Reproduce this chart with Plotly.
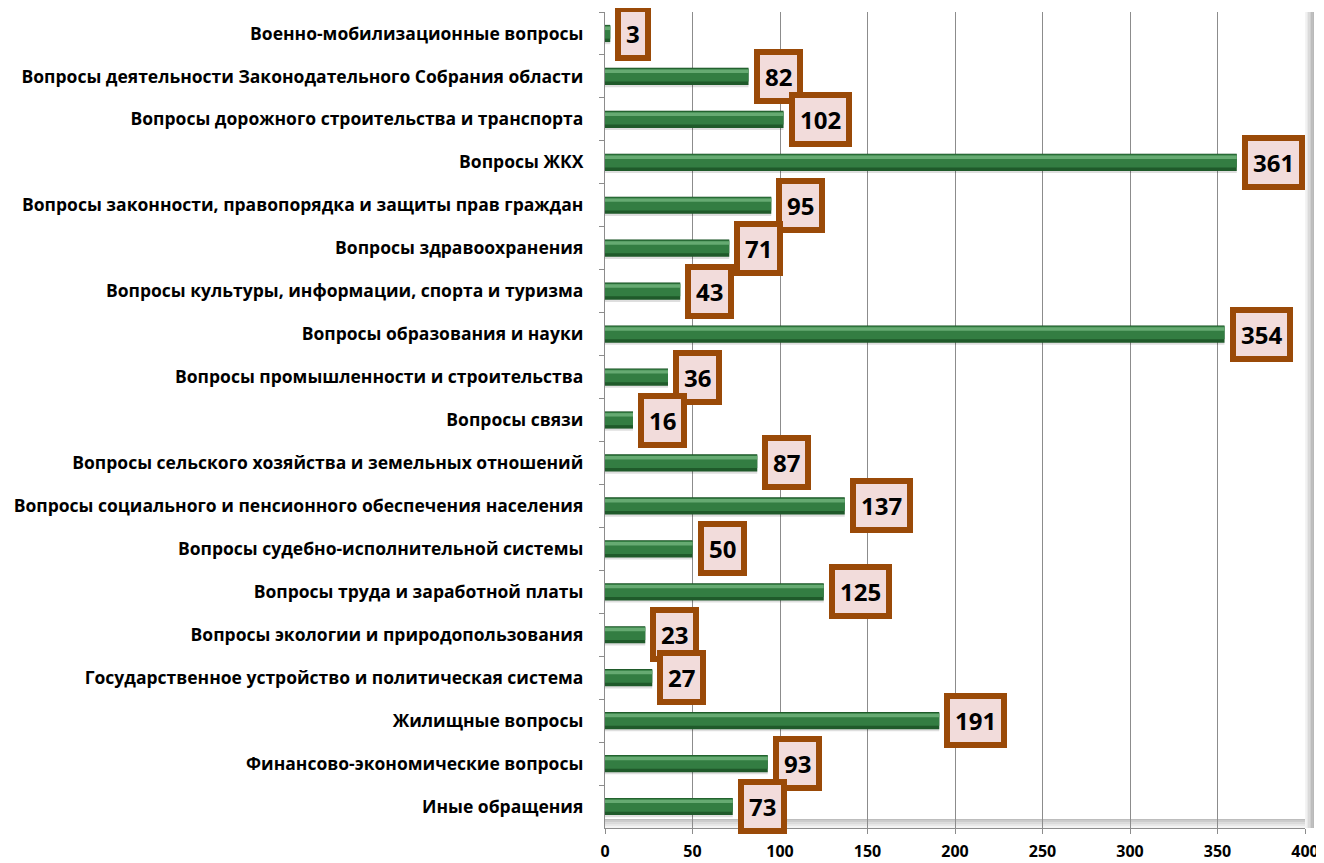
import plotly.graph_objects as go

categories = [
    "Военно-мобилизационные вопросы",
    "Вопросы деятельности Законодательного Собрания области",
    "Вопросы дорожного строительства и транспорта",
    "Вопросы ЖКХ",
    "Вопросы законности, правопорядка и защиты прав граждан",
    "Вопросы здравоохранения",
    "Вопросы культуры, информации, спорта и туризма",
    "Вопросы образования и науки",
    "Вопросы промышленности и строительства",
    "Вопросы связи",
    "Вопросы сельского хозяйства и земельных отношений",
    "Вопросы социального и пенсионного обеспечения населения",
    "Вопросы судебно-исполнительной системы",
    "Вопросы труда и заработной платы",
    "Вопросы экологии и природопользования",
    "Государственное устройство и политическая система",
    "Жилищные вопросы",
    "Финансово-экономические вопросы",
    "Иные обращения",
]
values = [3, 82, 102, 361, 95, 71, 43, 354, 36, 16, 87, 137, 50, 125, 23, 27, 191, 93, 73]
x_ticks = [0, 50, 100, 150, 200, 250, 300, 350, 400]

FONT = "Open Sans"
fig = go.Figure()

# bar layers to imitate the 3D gradient look
fig.add_trace(go.Bar(y=categories, x=values, orientation="h", width=0.45, offset=-0.2,
                     marker=dict(color="rgba(0,0,0,0.13)", line=dict(width=0)), hoverinfo="skip"))
fig.add_trace(go.Bar(y=categories, x=values, orientation="h", width=0.40, offset=-0.20,
                     marker=dict(color="#1F5A2A", line=dict(width=0)), hoverinfo="skip"))
fig.add_trace(go.Bar(y=categories, x=values, orientation="h", width=0.30, offset=-0.18,
                     marker=dict(color="#337D42", line=dict(width=0)), hoverinfo="skip"))
fig.add_trace(go.Bar(y=categories, x=values, orientation="h", width=0.08, offset=-0.16,
                     marker=dict(color="#66AA72", line=dict(width=0)), hoverinfo="skip"))

for c, v in zip(categories, values):
    fig.add_annotation(x=v, y=c, text=str(v), showarrow=False, xanchor="left", xshift=5,
                       font=dict(family=FONT, size=24, color="black", weight="bold"),
                       bgcolor="#F2DCDB", bordercolor="#9A4A08", borderwidth=6, borderpad=5)

# back wall shading (right side and floor)
shades = ["#f4f4f4", "#e8e8e8", "#dadada", "#cccccc", "#bdbdbd", "#aaaaaa"]
for i, col in enumerate(shades):
    fig.add_shape(type="rect", xref="paper", yref="paper", x0=1.0 + i * 0.0021, x1=1.0 + (i + 1) * 0.0021,
                  y0=0, y1=1, fillcolor=col, line=dict(width=0), layer="below")
for i, col in enumerate(shades[:-1]):
    fig.add_shape(type="rect", xref="paper", yref="paper", x0=0, x1=1,
                  y0=i * 0.0022, y1=(i + 1) * 0.0022, fillcolor=col, line=dict(width=0), layer="below")

fig.update_layout(
    width=1316, height=855,
    margin=dict(l=597, r=19, t=4, b=35),
    plot_bgcolor="white", paper_bgcolor="white",
    barmode="overlay", showlegend=False,
    font=dict(family=FONT, color="black"),
)
fig.update_xaxes(range=[0, 400], tickvals=x_ticks, showgrid=True, gridcolor="#8c8c8c", gridwidth=1.3,
                 showline=True, linecolor="#8c8c8c", linewidth=1.3, ticks="outside", ticklen=5,
                 tickcolor="#8c8c8c", zeroline=False, ticklabelstandoff=4, automargin=False,
                 tickfont=dict(family=FONT, size=16, color="black", weight="bold"))
fig.update_yaxes(range=[len(categories) - 0.5, -0.5], autorange=False, showline=True,
                 linecolor="#8c8c8c", linewidth=1.3,
                 ticks="outside", tickson="boundaries", ticklen=5, tickcolor="#8c8c8c",
                 ticklabelstandoff=17, showgrid=False, automargin=False,
                 tickfont=dict(family=FONT, size=17.5, color="black", weight="bold"))

fig.write_html("out.html")
